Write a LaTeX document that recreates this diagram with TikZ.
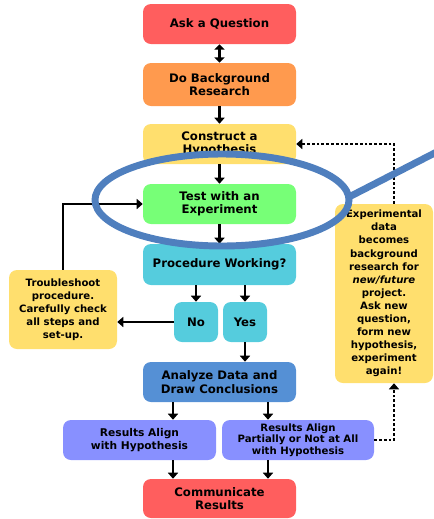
\documentclass[tikz,border=0pt]{standalone}
\usepackage{fontspec}
\setmainfont{DejaVu Sans}
\usetikzlibrary{arrows.meta}
\definecolor{askred}{HTML}{FF5E5E}
\definecolor{bgorange}{HTML}{FF9A4E}
\definecolor{hypyellow}{HTML}{FFDF6E}
\definecolor{testgreen}{HTML}{77FF77}
\definecolor{proccyan}{HTML}{55CCDD}
\definecolor{anblue}{HTML}{5590D5}
\definecolor{resviolet}{HTML}{8890FF}
\definecolor{lensblue}{HTML}{4F7FBE}
\begin{document}
\begin{tikzpicture}[x=0.75pt,y=-0.75pt,
  box/.style={rounded corners=6pt, inner sep=1pt, align=center,
    font=\bfseries\fontsize{8.8}{10}\selectfont},
  sz/.style 2 args={minimum width=#1*0.75pt, minimum height=#2*0.75pt},
  small/.style={font=\bfseries\fontsize{7.6}{9.8}\selectfont},
  flow/.style={line width=2.2pt, -{Triangle[length=4.5pt,width=7.5pt]}},
  twoway/.style={line width=2.2pt, {Triangle[length=4pt,width=7.5pt]}-{Triangle[length=4pt,width=7.5pt]}},
  dots/.style={line width=2pt, dash pattern=on 2pt off 1.6pt, -{Triangle[length=4.5pt,width=7.5pt]}},
  lens/.style={draw=lensblue, line width=5.2pt}]
\useasboundingbox (0,0) rectangle (434,519);
\clip (0,0) rectangle (434,519);

% main column
\node[box, fill=askred, sz={153}{40}] (ask) at (219.5,24) {Ask a Question};
\node[box, fill=bgorange, sz={153}{43}] (bg) at (219.5,84.5) {Do Background\\Research};
\node[box, fill=hypyellow, sz={153}{40}] (hyp) at (219.5,144) {Construct a\\Hypothesis};
\node[box, fill=testgreen, sz={153}{40}] (test) at (219.5,204) {Test with an\\Experiment};
\node[box, fill=proccyan, sz={153}{41}] (proc) at (219.5,264.5) {Procedure Working?};
\node[box, fill=proccyan, sz={44}{40}] (no) at (196,322) {No};
\node[box, fill=proccyan, sz={44}{40}] (yes) at (245,322) {Yes};
\node[box, fill=anblue, sz={153}{40}] (an) at (219.5,382) {Analyze Data and\\Draw Conclusions};
\node[box, fill=resviolet, sz={153}{40}, font=\bfseries\fontsize{8}{10}\selectfont] (ra1) at (139.5,440)
  {Results Align\\with Hypothesis};
\node[box, fill=resviolet, sz={152}{40}, font=\bfseries\fontsize{7.6}{8.8}\selectfont] (ra2) at (298,440)
  {Results Align\\Partially or Not at All\\with Hypothesis};
\node[box, fill=askred, sz={153}{39}] (comm) at (219.5,498.5) {Communicate\\Results};

% side notes
\node[box, small, fill=hypyellow, sz={108}{79}] (tr) at (63,309.5)
  {Troubleshoot\\procedure.\\Carefully check\\all steps and\\set-up.};
\node[box, small, fill=hypyellow, sz={98}{179}] (exp) at (384,293.5)
  {Experimental\\data\\becomes\\background\\research for\\\textit{new/future}\\project.\\Ask new\\question,\\form new\\hypothesis,\\experiment\\again!};

% connectors
\coordinate (lx) at (173,0);
\coordinate (rx) at (268,0);
\coordinate (fx) at (394,0);
\draw[twoway] (ask.south) -- (bg.north);
\draw[flow] (bg.south) -- (hyp.north);
\draw[flow] (hyp.south) -- (test.north);
\draw[flow] (test.south) -- (proc.north);
\draw[flow] (proc.south -| no) -- (no.north);
\draw[flow] (proc.south -| yes) -- (yes.north);
\draw[flow] (no.west) -- (no.west -| tr.east);
\draw[flow] (tr.north) |- (test.west);
\draw[flow] (yes.south) -- (yes.south |- an.north);
\draw[flow] (an.south -| lx) -- (ra1.north -| lx);
\draw[flow] (an.south -| rx) -- (ra2.north -| rx);
\draw[flow] (ra1.south -| lx) -- (comm.north -| lx);
\draw[flow] (ra2.south -| rx) -- (comm.north -| rx);
\draw[dots] (ra2.east) -| (exp.south -| fx);
\draw[dots] (exp.north -| fx) |- (hyp.east);

% magnifying lens
\draw[lens] (222,200) ellipse [x radius=127, y radius=46];
\draw[lens] (348,197.5) -- (460,140);
\end{tikzpicture}
\end{document}
